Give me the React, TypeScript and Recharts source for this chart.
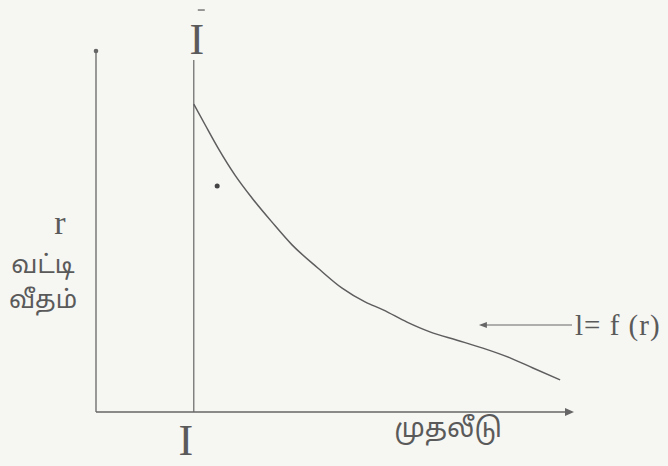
import React from "react"
import { LineChart, Line, XAxis, YAxis, ReferenceLine, ReferenceDot } from "recharts"

// curve I = f(r) (investment vs interest rate)
const curveI = [20.5, 22.9, 25.6, 29.1, 32.7, 36.9, 41.1, 46.5, 51.6, 56.4, 60.2, 65.2, 70.0, 75.7, 81.1, 86.8, 91.6, 97.3]
const curveR = [85.3, 79.5, 73.1, 65.7, 59.3, 52.6, 46.3, 39.9, 34.3, 30.5, 28.3, 24.9, 22.2, 19.9, 17.7, 15.0, 12.2, 8.9]

const barI = 20.5 // the vertical line Ī
const barTop = 97.5
const loosePoint = { i: 25.4, r: 62.6 }
const pointerFrom = 80.9
const pointerTo = 99.8
const pointerR = 24.1

const yLabels = ["r", "வட்டி", "வீதம்"]
const yLabelR = [52.4, 40.4, 30.5]
const xLabel = "முதலீடு"
const xLabelI = 73.8
const curveLabel = "l= f (r)"

const data = curveI.map((i, k) => ({ i, r: curveR[k] }))

const INK = "#666"
const TEXT = "#5a5a5a"
const SERIF = "'Liberation Serif', 'DejaVu Serif', serif"
const TAMIL = "'Noto Sans Tamil', 'Noto Sans', sans-serif"

function TextAt(props: any) {
  const { viewBox, text, dx = 0, dy = 0, size = 24, anchor = "middle", font = SERIF, bar, spacing = 0 } = props
  const x = viewBox.x + (viewBox.width || 0) / 2 + dx
  const y = viewBox.y + (viewBox.height || 0) / 2 + dy
  return (
    <g>
      {bar && <line x1={x + 1} x2={x + 8} y1={y - 29} y2={y - 29} stroke={TEXT} strokeWidth={1.2} />}
      <text x={x} y={y} textAnchor={anchor} dominantBaseline="central" fontFamily={font} fontSize={size}
        letterSpacing={spacing} fill={TEXT}>
        {text}
      </text>
    </g>
  )
}

export default function App() {
  return (
    <div style={{ position: "fixed", left: 0, top: 0, width: 668, height: 466, background: "#f6f6f3" }}>
      <LineChart width={668} height={466} data={data} margin={{ top: 51, right: 95, bottom: 54, left: 96 }}>
        <XAxis type="number" dataKey="i" domain={[0, 100]} hide />
        <YAxis type="number" dataKey="r" domain={[0, 100]} hide />

        {/* axes */}
        <ReferenceLine segment={[{ x: 0, y: 0 }, { x: 99, y: 0 }]} stroke={INK} strokeWidth={1.3} />
        <ReferenceLine segment={[{ x: 0, y: 0 }, { x: 0, y: 100 }]} stroke={INK} strokeWidth={1.3} />
        <ReferenceDot
          x={100}
          y={0}
          r={4}
          shape={(p: any) => <path d={`M${p.cx + 1},${p.cy} L${p.cx - 8},${p.cy - 4} L${p.cx - 8},${p.cy + 4} Z`} fill={INK} />}
        />
        <ReferenceDot x={0} y={100} r={2.3} fill={INK} stroke="none" />

        {/* Ī vertical line */}
        <ReferenceLine segment={[{ x: barI, y: 0 }, { x: barI, y: barTop }]} stroke={INK} strokeWidth={1.2} />

        {/* pointer arrow toward the curve */}
        <ReferenceLine segment={[{ x: pointerFrom, y: pointerR }, { x: pointerTo, y: pointerR }]} stroke={INK} strokeWidth={1.2} />
        <ReferenceDot
          x={pointerFrom}
          y={pointerR}
          r={3}
          shape={(p: any) => <path d={`M${p.cx - 3},${p.cy} L${p.cx + 5},${p.cy - 3} L${p.cx + 5},${p.cy + 3} Z`} fill={INK} />}
        />
        <ReferenceDot x={pointerTo} y={pointerR} r={0} fill="none" stroke="none"
          label={<TextAt text={curveLabel} dx={3} size={29} spacing={1} anchor="start" />} />

        {/* stray dot */}
        <ReferenceDot x={loosePoint.i} y={loosePoint.r} r={2.5} fill="#444" stroke="none" />

        {/* labels */}
        <ReferenceDot x={barI} y={barTop} r={0} fill="none" stroke="none"
          label={<TextAt text="I" dx={3} dy={-21} size={44} bar />} />
        <ReferenceDot x={barI} y={0} r={0} fill="none" stroke="none"
          label={<TextAt text="I" dx={-8} dy={28} size={44} />} />
        <ReferenceDot x={xLabelI} y={0} r={0} fill="none" stroke="none"
          label={<TextAt text={xLabel} dy={18} size={27} font={TAMIL} />} />
        {yLabels.map((t, k) => (
          <ReferenceDot key={t} x={0} y={yLabelR[k]} r={0} fill="none" stroke="none"
            label={<TextAt text={t} dx={k === 0 ? -36 : -53} size={k === 0 ? 34 : 25}
              font={k === 0 ? SERIF : TAMIL} />} />
        ))}

        <Line type="monotone" dataKey="r" stroke="#5e5e5e" strokeWidth={1.5} dot={false} isAnimationActive={false} />
      </LineChart>
    </div>
  )
}
